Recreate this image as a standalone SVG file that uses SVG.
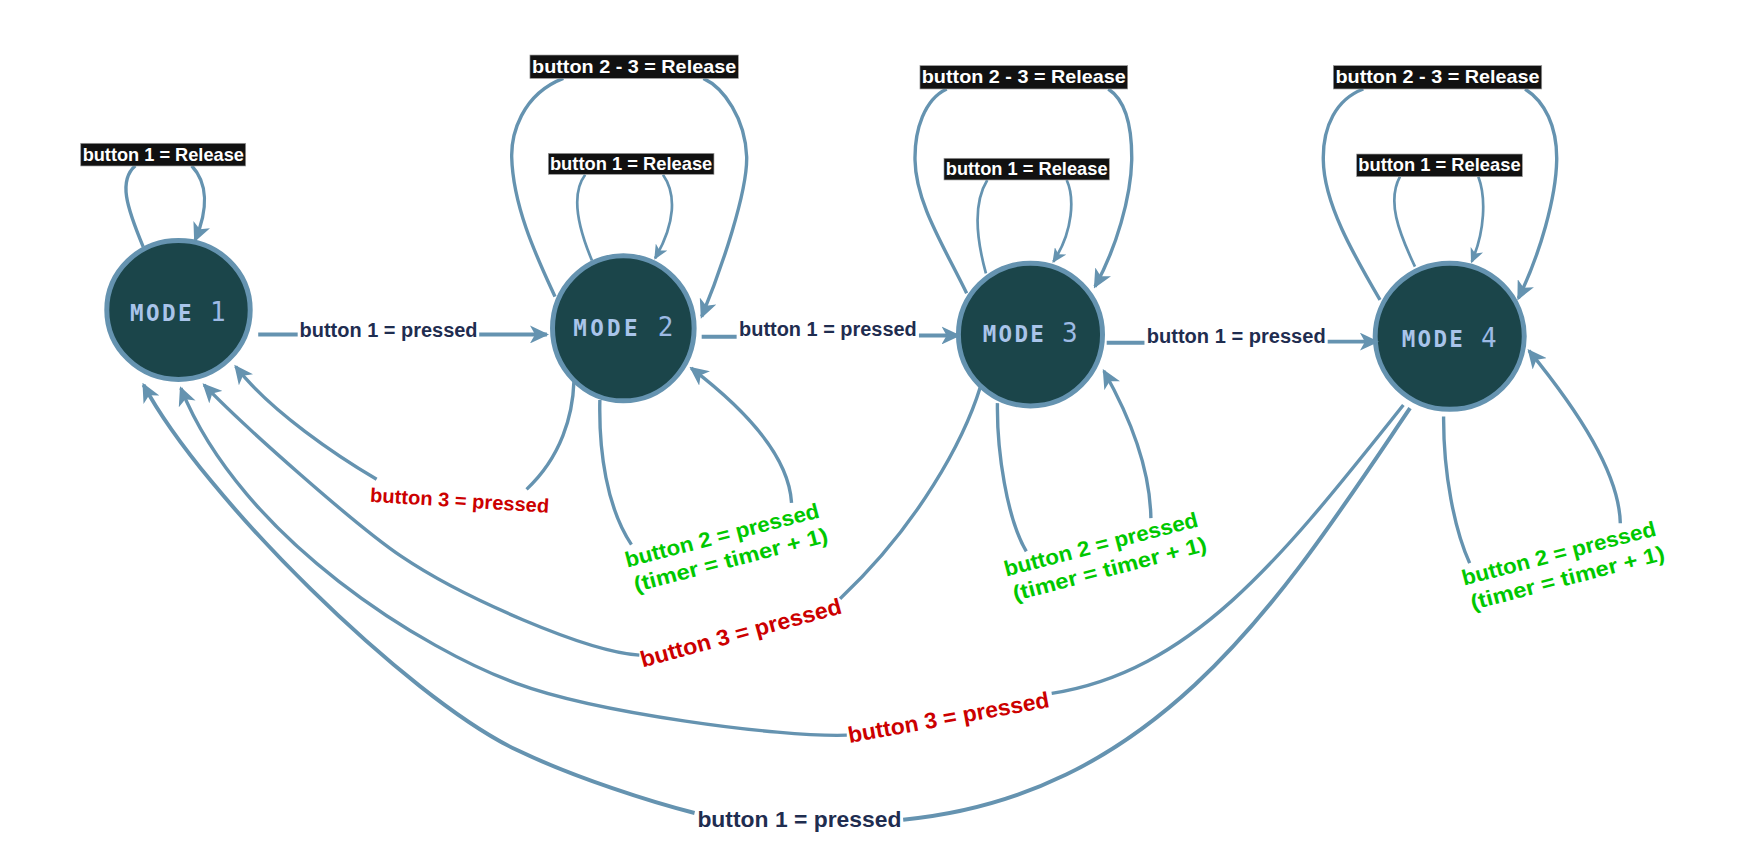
<svg xmlns="http://www.w3.org/2000/svg" width="1759" height="844" viewBox="0 0 1759 844">
<style>
.node{fill:#1b454a;stroke:#6593b0;stroke-width:4.4}
.nt{font-family:"DejaVu Sans Mono","Liberation Mono",monospace;fill:#a9c4ea}
.nt .m{font-size:20px;font-weight:bold}
.nt .d{font-size:23px;fill:#9dbae4}
.e{fill:none;stroke:#6593b0;stroke-width:3}
.e.t{stroke-width:3.5}
.e.s{stroke-width:2.4}
.box{fill:#111111;stroke:#9a9a9a;stroke-width:0.6}
.bt{font-family:"Liberation Sans",Arial,sans-serif;font-weight:bold;font-size:16.5px;fill:#ffffff;text-anchor:middle}
.lb{font-family:"Liberation Sans",Arial,sans-serif;font-weight:bold}
.nv{fill:#1f2d50;font-size:17.7px}
.nvb{fill:#1f2d50;font-size:20px}
.rd{fill:#cc0000}
.gr{fill:#00c800;font-size:19px;text-anchor:middle}
</style>
<defs>
<marker id="arrL" markerUnits="userSpaceOnUse" markerWidth="17" markerHeight="16" viewBox="0 0 17 16" refX="15" refY="8" orient="auto">
<path d="M0,0 L17,8 L0,16 L4.5,8 z" fill="#6593b0"/>
</marker>
<marker id="arrS" markerUnits="userSpaceOnUse" markerWidth="13" markerHeight="12" viewBox="0 0 13 12" refX="11.5" refY="6" orient="auto">
<path d="M0,0 L13,6 L0,12 L3.5,6 z" fill="#6593b0"/>
</marker>
</defs>
<g transform="scale(1.12756)">
<g id="mode1"><ellipse class="node" cx="158.3" cy="274.9" rx="63.6" ry="61.6"/><text class="nt" x="115.3" y="284.4" textLength="84.7" lengthAdjust="spacing"><tspan class="m">MODE </tspan><tspan class="d">1</tspan></text></g>
<g id="mode2"><ellipse class="node" cx="552.8" cy="291.2" rx="62.8" ry="64.3"/><text class="nt" x="508.5" y="298" textLength="88.6" lengthAdjust="spacing"><tspan class="m">MODE </tspan><tspan class="d">2</tspan></text></g>
<g id="mode3"><ellipse class="node" cx="913.9" cy="296.7" rx="63.9" ry="63.3"/><text class="nt" x="871.5" y="303" textLength="84.2" lengthAdjust="spacing"><tspan class="m">MODE </tspan><tspan class="d">3</tspan></text></g>
<g id="mode4"><ellipse class="node" cx="1285.7" cy="298.2" rx="66.1" ry="64.8"/><text class="nt" x="1243.1" y="307.5" textLength="84.2" lengthAdjust="spacing"><tspan class="m">MODE </tspan><tspan class="d">4</tspan></text></g>
<g id="connectors">
<path class="e" d="M127,219 C112,183 105,160 120,147 M170,147 C184,162 185,185 173,213" marker-end="url(#arrL)"/>
<path class="e t" d="M229,296.6 H264 M425,296.6 H485" marker-end="url(#arrL)"/>
<path class="e" d="M492.2,263.1 C478,232 455,185 453.8,139 C453.5,120 462,84 499.6,69.5 M623.8,69.5 C642,78 661,105 662.2,139 C663,170 640,238 622.3,280.8" marker-end="url(#arrL)"/>
<path class="e s" d="M525,231 C512,200 506,172 519,155 M588,155 C600,172 599,198 581,229" marker-end="url(#arrS)"/>
<path class="e t" d="M622.3,298.6 H653.3 M815,297.5 H850" marker-end="url(#arrL)"/>
<path class="e" d="M532,354.7 C531,400 538,450 560,483 M702,446 C700,410 670,370 613,326.5" marker-end="url(#arrL)"/>
<path class="e" d="M509,338.5 C508,368 498,405 467,434 M334,425 C300,405 240,365 209,325" marker-end="url(#arrL)"/>
<path class="e" d="M857.3,260.1 C838,220 812,180 811.5,141.9 C811,115 820,88 839.6,78.9 M982.9,78.9 C997,88 1004,110 1003.7,141.9 C1003,175 990,220 971.1,254.2" marker-end="url(#arrL)"/>
<path class="e s" d="M874.4,242.4 C866,212 863,180 875.6,159.6 M946,159.6 C953,175 952,205 934.2,232.1" marker-end="url(#arrS)"/>
<path class="e t" d="M981.5,303.9 H1015 M1177.5,303 H1221" marker-end="url(#arrL)"/>
<path class="e" d="M884.6,357.5 C884,400 893,460 910.2,489 M1020.7,459.5 C1020,420 1005,375 979,329" marker-end="url(#arrL)"/>
<path class="e" d="M869.5,343 C855,390 815,465 745,531 M567,581 C520,578 410,530 356,493.5 C316,466.5 216,378 181,341.4" marker-end="url(#arrL)"/>
<path class="e" d="M1223.9,266 C1200,225 1174,180 1173.6,141.9 C1173,112 1185,88 1209.1,78.9 M1352.5,78.9 C1370,90 1381,112 1380.6,141.9 C1380,175 1366,225 1346.6,264.6" marker-end="url(#arrL)"/>
<path class="e s" d="M1254.9,236.5 C1240,205 1230,178 1241.6,156.7 M1311.1,156.7 C1318,175 1317,205 1305.2,232.1" marker-end="url(#arrS)"/>
<path class="e" d="M1280.3,369.4 C1280,420 1290,470 1303.4,499.4 M1437,464 C1436,420 1400,365 1356,311" marker-end="url(#arrL)"/>
<path class="e" d="M1244.6,359.2 C1140,490 1060,595 932.7,614.9 M751,652 C690,654 528,632 458,606 C380,578 215,480 160.4,344.3" marker-end="url(#arrL)"/>
<path class="e t" d="M1250.5,362 C1140,525 1030,705 801,727 M616,721 C580,712 510,690 458,665 C360,618 180,440 127.3,341.3" marker-end="url(#arrL)"/>
</g>
<g id="edge-labels">
<g id="lbl-m1-loop"><rect class="box" x="71.6" y="127.1" width="146.3" height="20.1"/><text class="bt" x="144.8" y="142.5" textLength="143" lengthAdjust="spacingAndGlyphs">button 1 = Release</text></g>
<g id="lbl-m2-outer"><rect class="box" x="470" y="48.8" width="184.8" height="20.7"/><text class="bt" x="562.4" y="64.4" textLength="181" lengthAdjust="spacingAndGlyphs">button 2 - 3 = Release</text></g>
<g id="lbl-m2-inner"><rect class="box" x="486.3" y="136" width="146.9" height="18.6"/><text class="bt" x="559.7" y="150.6" textLength="144" lengthAdjust="spacingAndGlyphs">button 1 = Release</text></g>
<g id="lbl-m3-outer"><rect class="box" x="815.9" y="58.2" width="184.2" height="20.7"/><text class="bt" x="908" y="73.8" textLength="181" lengthAdjust="spacingAndGlyphs">button 2 - 3 = Release</text></g>
<g id="lbl-m3-inner"><rect class="box" x="837.2" y="140.4" width="146.6" height="19.2"/><text class="bt" x="910.5" y="155.4" textLength="143.5" lengthAdjust="spacingAndGlyphs">button 1 = Release</text></g>
<g id="lbl-m4-outer"><rect class="box" x="1182.5" y="58.2" width="184.8" height="20.7"/><text class="bt" x="1274.9" y="73.8" textLength="181" lengthAdjust="spacingAndGlyphs">button 2 - 3 = Release</text></g>
<g id="lbl-m4-inner"><rect class="box" x="1203.2" y="136.6" width="146.9" height="20.1"/><text class="bt" x="1276.6" y="152" textLength="144" lengthAdjust="spacingAndGlyphs">button 1 = Release</text></g>
<text class="lb nv" x="265.7" y="299" textLength="157.8" lengthAdjust="spacingAndGlyphs">button 1 = pressed</text>
<text class="lb nv" x="655.5" y="298" textLength="157.5" lengthAdjust="spacingAndGlyphs">button 1 = pressed</text>
<text class="lb nv" x="1017" y="304.5" textLength="158.7" lengthAdjust="spacingAndGlyphs">button 1 = pressed</text>
<text class="lb nvb" x="618.5" y="733" textLength="181" lengthAdjust="spacingAndGlyphs">button 1 = pressed</text>
<text class="lb rd" transform="translate(328,445) rotate(3.5)" font-size="17.5" textLength="159" lengthAdjust="spacingAndGlyphs">button 3 = pressed</text>
<text class="lb rd" transform="translate(570,592) rotate(-15.2)" font-size="20" textLength="184" lengthAdjust="spacingAndGlyphs">button 3 = pressed</text>
<text class="lb rd" transform="translate(753.4,659) rotate(-10.2)" font-size="20" textLength="181" lengthAdjust="spacingAndGlyphs">button 3 = pressed</text>
<g transform="translate(642,481) rotate(-14.6)"><text class="lb gr" x="0" y="0" textLength="177" lengthAdjust="spacingAndGlyphs">button 2 = pressed</text><text class="lb gr" x="2" y="23" textLength="177" lengthAdjust="spacingAndGlyphs">(timer = timer + 1)</text></g>
<g transform="translate(978,489) rotate(-14.6)"><text class="lb gr" x="0" y="0" textLength="177" lengthAdjust="spacingAndGlyphs">button 2 = pressed</text><text class="lb gr" x="2" y="23" textLength="177" lengthAdjust="spacingAndGlyphs">(timer = timer + 1)</text></g>
<g transform="translate(1384,497) rotate(-14.6)"><text class="lb gr" x="0" y="0" textLength="177" lengthAdjust="spacingAndGlyphs">button 2 = pressed</text><text class="lb gr" x="2" y="23" textLength="177" lengthAdjust="spacingAndGlyphs">(timer = timer + 1)</text></g>
</g>
</g>
</svg>
